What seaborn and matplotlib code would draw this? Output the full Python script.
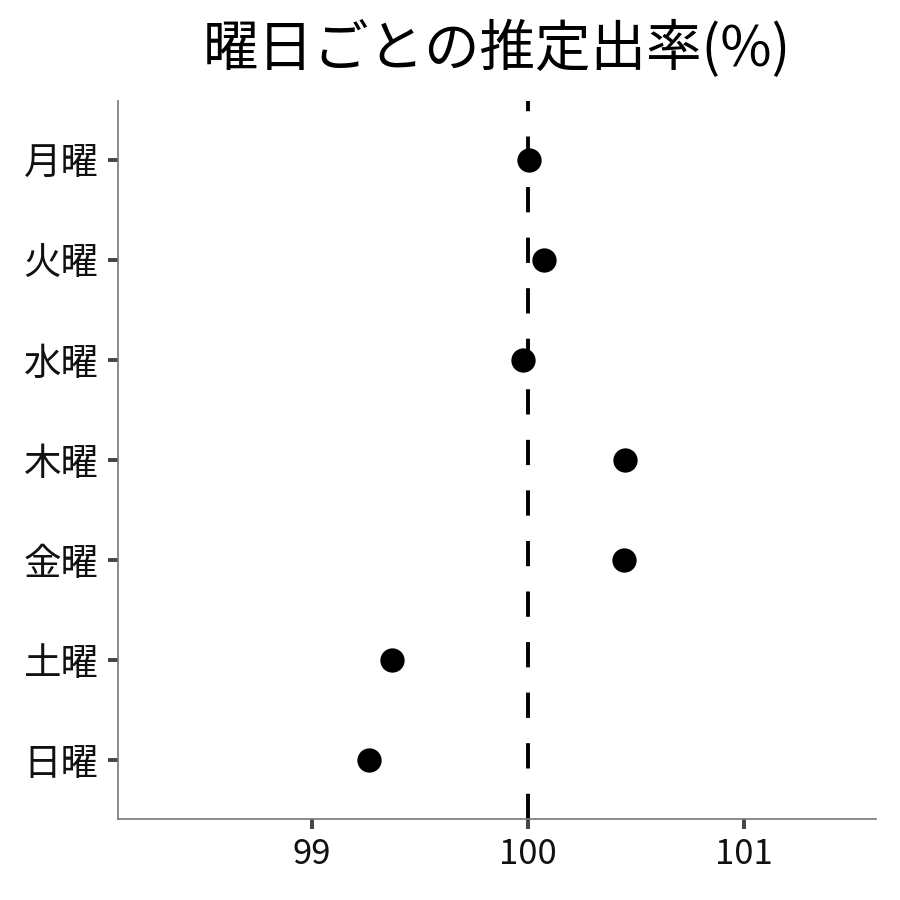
import matplotlib
matplotlib.use("Agg")
import matplotlib.pyplot as plt
import seaborn as sns
import pandas as pd

days = ["月曜", "火曜", "水曜", "木曜", "金曜", "土曜", "日曜"]
rates = [100.005, 100.074, 99.977, 100.449, 100.444, 99.370, 99.264]
xticks = [99, 100, 101]
title = "曜日ごとの推定出率(%)"

sns.set_theme(style="white")
plt.rcParams['font.family'] = ['Noto Sans CJK JP', 'DejaVu Sans']

df = pd.DataFrame({"day": days, "rate": rates})

fig = plt.figure(figsize=(9, 9), dpi=100)
ax = fig.add_axes([0.131, 0.09, 0.842, 0.798])

ax.axvline(100, color="black", lw=2.8, dashes=(6.5, 6.5), zorder=1)
sns.stripplot(data=df, x="rate", y="day", order=days, jitter=False,
              color="black", size=17.5, ax=ax, zorder=3)

ax.set_xlim(98.102, 101.611)
ax.set_ylim(6.59, -0.59)
ax.set_xticks(xticks)
ax.set_xticklabels([str(t) for t in xticks])
ax.set_xlabel("")
ax.set_ylabel("")

for s in ["top", "right"]:
    ax.spines[s].set_visible(False)
for s in ["left", "bottom"]:
    ax.spines[s].set_color("#777777")
    ax.spines[s].set_linewidth(1.2)

ax.tick_params(axis="both", which="major", length=7, width=2.8,
               color="#444444", labelcolor="#111111",
               left=True, bottom=True, pad=6)
ax.tick_params(axis="x", labelsize=25)
ax.tick_params(axis="y", labelsize=27, pad=7)

ax.set_title(title, fontsize=40, color="black", pad=25)

fig.savefig("out.png", dpi=100, facecolor="white")
